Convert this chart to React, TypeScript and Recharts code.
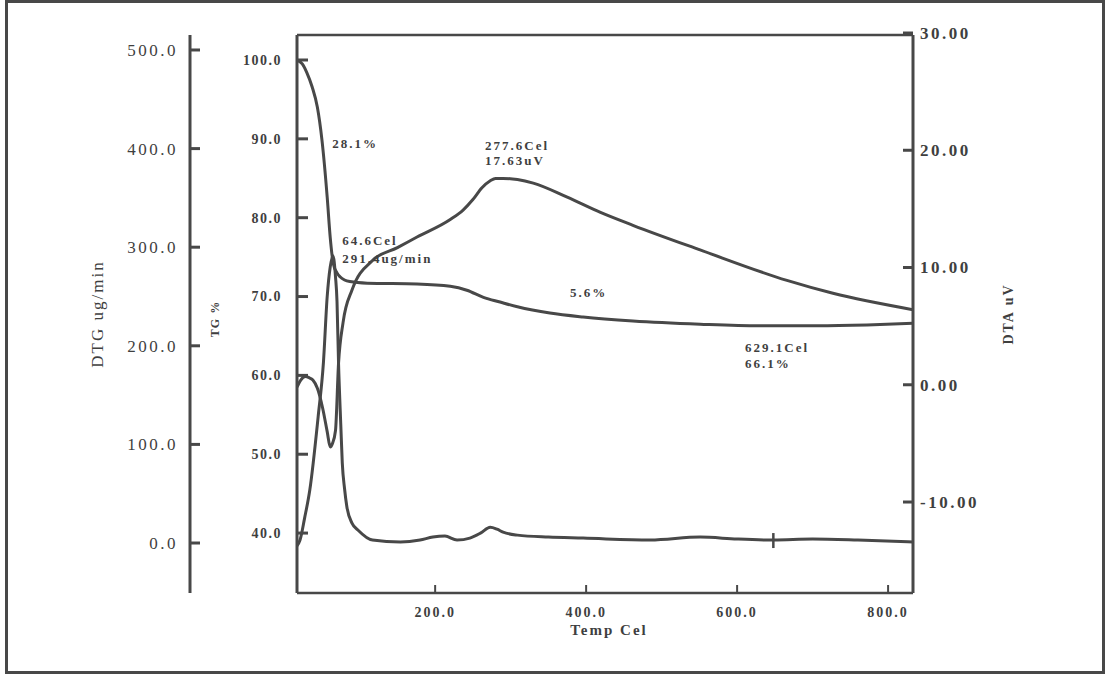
import React from "react";
import {
  ComposedChart,
  Line,
  XAxis,
  YAxis,
  ReferenceLine,
  ReferenceDot,
} from "recharts";

const INK = "#484848";
const TEXT = "#3f3f3f";
const FONT = '"Liberation Serif", "Times New Roman", serif';

// axis ids: inner left axis sorts first
const TG = "a-tg";
const DTG = "b-dtg";
const DTA = "c-dta";

// temperature axis (Cel)
const tempDomain = [17, 833];
const tempTicks = [200, 400, 600, 800];

// TG % curve
const tgTemp = [17, 24, 30, 37, 44, 50, 57, 61, 65, 70, 74, 80, 87, 110, 176, 220, 242, 264, 286, 309, 352, 396, 462, 551, 629, 706, 772, 833];
const tgValue = [100.0, 99.5, 98.4, 96.6, 94.0, 89.9, 82.6, 77.5, 74.2, 73.0, 72.5, 72.1, 71.9, 71.7, 71.6, 71.3, 70.8, 69.9, 69.3, 68.7, 67.9, 67.4, 66.9, 66.5, 66.3, 66.3, 66.4, 66.6];
const tgDomain = [32.4, 103.17];
const tgTicks = [40, 50, 60, 70, 80, 90, 100];

// DTA uV curve
const dtaTemp = [17, 22, 28, 33, 38, 44, 51, 57, 61, 64, 68, 72, 78, 90, 117, 150, 176, 220, 237, 250, 262, 273, 280, 290, 309, 330, 375, 419, 462, 551, 666, 727, 833];
const dtaValue = [-0.2, 0.4, 0.7, 0.6, 0.4, -0.3, -2.0, -4.0, -5.3, -5.0, -3.9, 1.8, 5.3, 8.1, 10.6, 11.7, 12.6, 14.1, 14.9, 15.8, 16.8, 17.4, 17.6, 17.6, 17.5, 17.2, 16.0, 14.7, 13.6, 11.5, 8.9, 7.8, 6.4];
const dtaDomain = [-17.76, 29.83];
const dtaTicks = [-10, 0, 10, 20, 30];

// DTG ug/min curve
const dtgTemp = [17, 21, 27, 34, 45, 52, 57, 61, 64.6, 68, 70, 72, 75, 77, 80, 83, 90, 98, 117, 154, 180, 197, 213, 229, 246, 260, 273, 282, 290, 309, 350, 396, 485, 551, 600, 648, 700, 760, 833];
const dtgValue = [-3, 3, 25, 54, 128, 183, 250, 280, 291.4, 270, 245, 183, 120, 81, 55, 37, 20, 13, 3, 1, 3, 6, 7, 3, 5, 10, 16, 14, 11, 8, 6, 5, 3, 6, 4, 3, 4, 3, 1];
const dtgDomain = [-50.7, 515.2];
const dtgTicks = [0, 100, 200, 300, 400, 500];

// analysis notes, placed on the TG scale
const noteTemp = [63.6, 266.2, 266.2, 76.8, 76.8, 378.8, 610.6, 610.6];
const noteTg = [88.84, 88.58, 86.68, 76.53, 74.25, 69.94, 62.96, 60.93];
const noteText = ["28.1%", "277.6Cel", "17.63uV", "64.6Cel", "291.4ug/min", "5.6%", "629.1Cel", "66.1%"];

const zip = (xs: number[], ys: number[]) => xs.map((t, i) => ({ t, v: ys[i] }));
const tgData = zip(tgTemp, tgValue);
const dtaData = zip(dtaTemp, dtaValue);
const dtgData = zip(dtgTemp, dtgValue);

const textStyle = (size: number, bold: boolean, spacing: number) => ({
  fontFamily: FONT,
  fontSize: size,
  fontWeight: bold ? 700 : 400,
  letterSpacing: spacing,
  fill: TEXT,
});

// ticks point into the plot, labels sit outside
const sideTick =
  (side: "left" | "right", gap: number, len: number, digits: number, size: number, bold: boolean, spacing: number) =>
  (props: any) => {
    const { x, y, payload } = props;
    const axisX = side === "left" ? x + gap : x - gap;
    const end = side === "left" ? axisX + len : axisX - len;
    return (
      <g>
        <line x1={axisX} y1={y} x2={end} y2={y} stroke={INK} strokeWidth={3} />
        <text
          x={x}
          y={y}
          dy="0.35em"
          textAnchor={side === "left" ? "end" : "start"}
          style={textStyle(size, bold, spacing)}
        >
          {Number(payload.value).toFixed(digits)}
        </text>
      </g>
    );
  };

const BottomTick = (props: any) => {
  const { x, y, payload } = props;
  const axisY = y - 19;
  return (
    <g>
      <line x1={x} y1={axisY} x2={x} y2={axisY - 8} stroke={INK} strokeWidth={2} />
      <text x={x} y={y} dy="0.35em" textAnchor="middle" style={textStyle(14, true, 2)}>
        {Number(payload.value).toFixed(1)}
      </text>
    </g>
  );
};

const noteShape = (text: string) => (p: any) => (
  <text x={p.cx} y={p.cy} style={textStyle(13, true, 2)}>
    {text}
  </text>
);

const markShape = (p: any) => (
  <line x1={p.cx} y1={p.cy - 7} x2={p.cx} y2={p.cy + 8} stroke={INK} strokeWidth={2.5} />
);

export default function App() {
  return (
    <div style={{ position: "absolute", left: 0, top: 0, width: 1109, height: 679, background: "#fff" }}>
      <div
        style={{
          position: "absolute",
          left: 5,
          top: 0,
          width: 1100,
          height: 674,
          boxSizing: "border-box",
          border: `3px solid ${INK}`,
        }}
      />
      <div style={{ position: "absolute", left: 0, top: 0 }}>
        <ComposedChart width={1109} height={679} margin={{ top: 35, right: 0, bottom: 36, left: 0 }}>
          <XAxis
            dataKey="t"
            type="number"
            domain={tempDomain}
            ticks={tempTicks}
            allowDataOverflow
            height={50}
            tickSize={0}
            tickMargin={19}
            tickLine={false}
            axisLine={{ stroke: INK, strokeWidth: 2.5 }}
            tick={BottomTick}
          />
          <YAxis
            yAxisId={TG}
            type="number"
            domain={tgDomain}
            ticks={tgTicks}
            allowDataOverflow
            width={107}
            tickSize={0}
            tickMargin={15}
            tickLine={false}
            axisLine={{ stroke: INK, strokeWidth: 3 }}
            tick={sideTick("left", 15, 11, 1, 14, true, 1.5)}
          />
          <YAxis
            yAxisId={DTG}
            type="number"
            domain={dtgDomain}
            ticks={dtgTicks}
            allowDataOverflow
            width={190}
            tickSize={0}
            tickMargin={12}
            tickLine={false}
            axisLine={{ stroke: INK, strokeWidth: 3 }}
            tick={sideTick("left", 12, 10, 1, 17, false, 2.5)}
          />
          <YAxis
            yAxisId={DTA}
            orientation="right"
            type="number"
            domain={dtaDomain}
            ticks={dtaTicks}
            allowDataOverflow
            width={196}
            tickSize={0}
            tickMargin={7}
            tickLine={false}
            axisLine={{ stroke: INK, strokeWidth: 3 }}
            tick={sideTick("right", 7, 10, 2, 17, true, 2.5)}
          />
          <ReferenceLine yAxisId={TG} y={tgDomain[1]} stroke={INK} strokeWidth={2.5} />

          <Line data={tgData} dataKey="v" yAxisId={TG} type="monotone" dot={false} stroke={INK} strokeWidth={3} isAnimationActive={false} />
          <Line data={dtaData} dataKey="v" yAxisId={DTA} type="monotone" dot={false} stroke={INK} strokeWidth={3} isAnimationActive={false} />
          <Line data={dtgData} dataKey="v" yAxisId={DTG} type="monotone" dot={false} stroke={INK} strokeWidth={3} isAnimationActive={false} />

          <ReferenceDot yAxisId={DTG} x={648} y={3} r={0} shape={markShape} />
          {noteText.map((text, i) => (
            <ReferenceDot key={text} yAxisId={TG} x={noteTemp[i]} y={noteTg[i]} r={0} shape={noteShape(text)} />
          ))}
        </ComposedChart>
      </div>
      <svg width={1109} height={679} style={{ position: "absolute", left: 0, top: 0, pointerEvents: "none" }}>
        <text transform="translate(103,314) rotate(-90)" textAnchor="middle" style={textStyle(17, false, 2)}>
          DTG ug/min
        </text>
        <text transform="translate(219,319) rotate(-90)" textAnchor="middle" style={textStyle(12, true, 1)}>
          TG %
        </text>
        <text transform="translate(1013,314) rotate(-90)" textAnchor="middle" style={textStyle(14, true, 2)}>
          DTA uV
        </text>
        <text x={609} y={635} textAnchor="middle" style={textStyle(15, true, 2)}>
          Temp Cel
        </text>
      </svg>
    </div>
  );
}
